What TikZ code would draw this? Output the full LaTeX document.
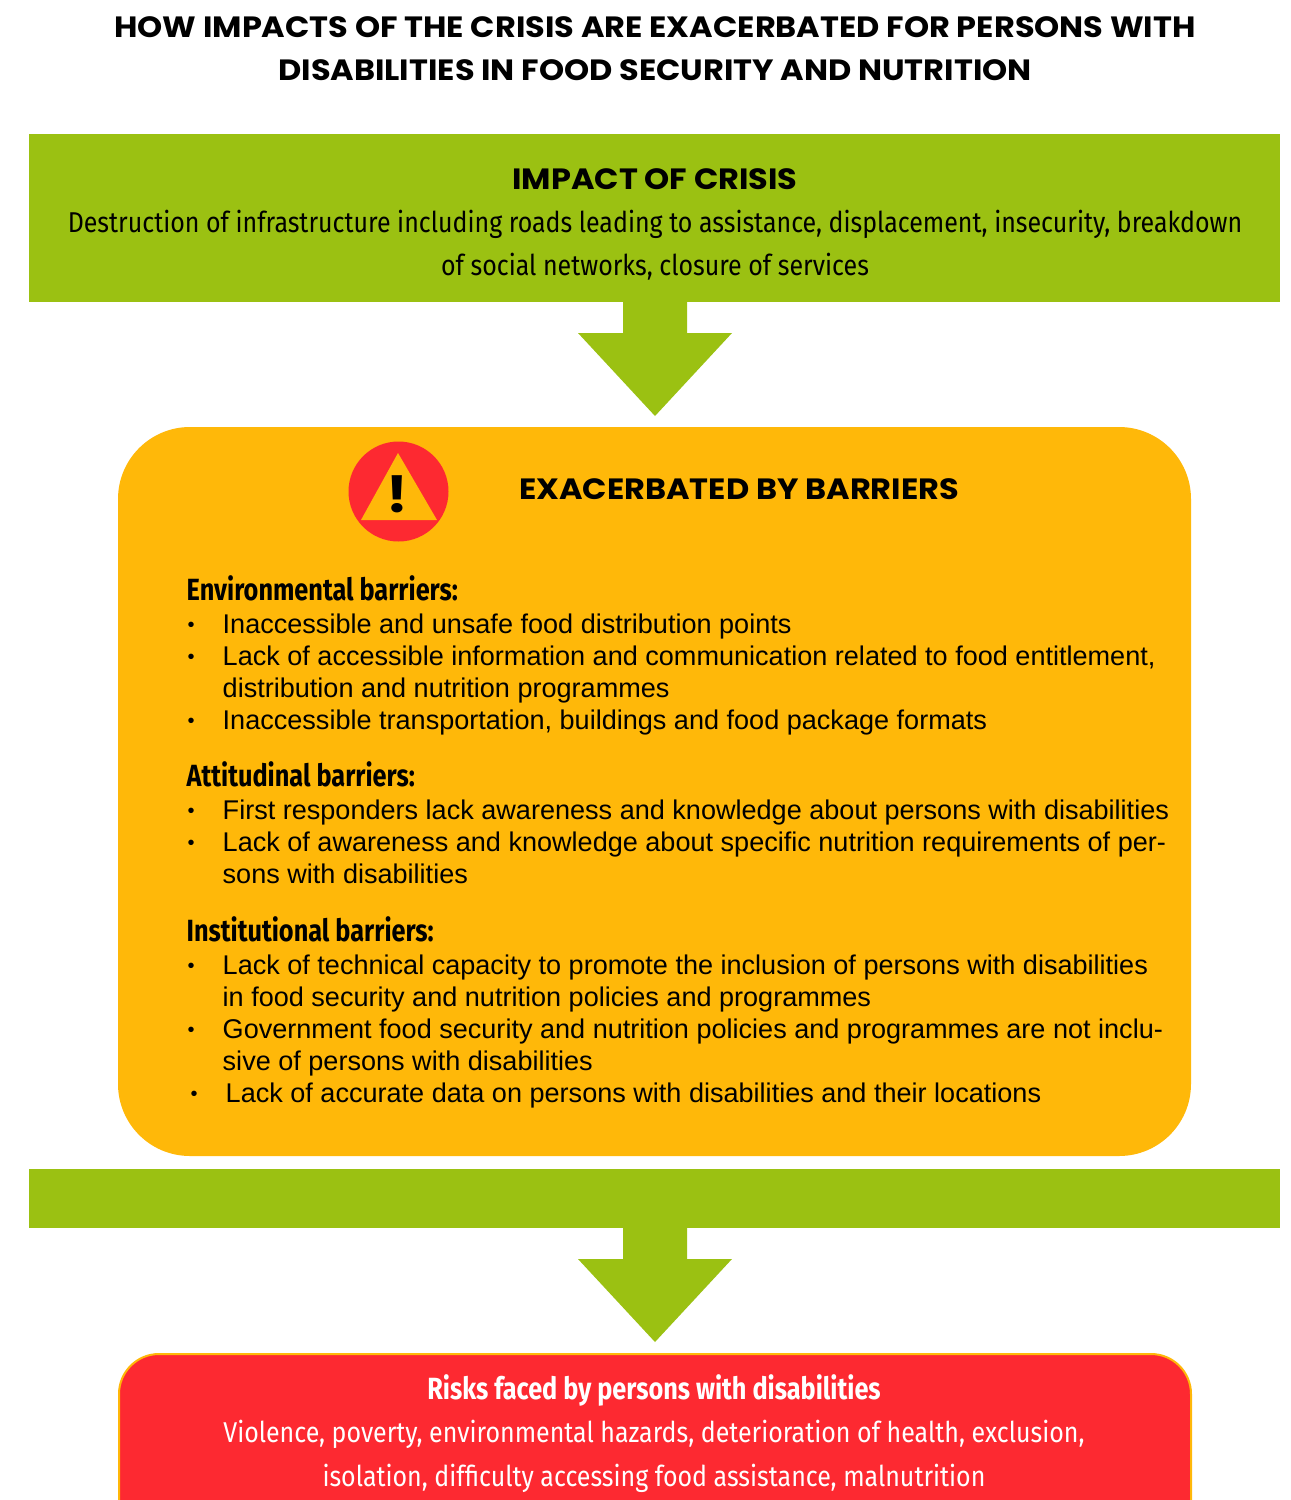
\documentclass[tikz,border=0pt]{standalone}
\usepackage{fontspec}
\setmainfont{Liberation Sans}
\newfontfamily\headfont[FakeStretch=1.09]{Poppins}
\newfontfamily\bodyfont{Liberation Sans}
\newfontfamily\narrowfont[FakeStretch=0.871]{Fira Sans}
\newfontfamily\subfont[FakeStretch=0.825]{Fira Sans}
\usetikzlibrary{positioning}
\definecolor{barGreen}{RGB}{155,193,18}
\definecolor{barAmber}{RGB}{255,184,9}
\definecolor{barRed}{RGB}{253,41,49}
\tikzset{
  headtext/.style={font=\headfont\bfseries\fontsize{22}{32}\selectfont,anchor=base},
  narrowtext/.style={font=\narrowfont\fontsize{21.5}{32}\selectfont,anchor=base},
  subtext/.style={font=\subfont\bfseries\fontsize{23}{32}\selectfont,anchor=base west},
  itemtext/.style={font=\bodyfont\fontsize{20.3}{24}\selectfont,anchor=base west},
  dottext/.style={font=\bodyfont\fontsize{15}{24}\selectfont,anchor=base},
}
\begin{document}
\begin{tikzpicture}[x=0.75pt,y=0.75pt,yscale=-1,xscale=1]
\useasboundingbox (0,0) rectangle (1290,1500);
\path[fill=white] (0,0) rectangle (1290,1500);

% Title
\node [headtext] (titlea) at (655,37) {HOW IMPACTS OF THE CRISIS ARE EXACERBATED FOR PERSONS WITH};
\node [headtext] (titleb) at (655,80) {DISABILITIES IN FOOD SECURITY AND NUTRITION};

% Green band with arrow
\fill [barGreen] (29,134) rectangle (1280,302);
\fill [barGreen] (623,302) -- (687,302) -- (687,333) -- (732,333) -- (655,416) -- (578,333) -- (623,333) -- cycle;
\node [headtext] (impact) at (655,189) {IMPACT OF CRISIS};
\node [narrowtext] (impacta) at (655,232) {Destruction of infrastructure including roads leading to assistance, displacement, insecurity, breakdown};
\node [narrowtext] (impactb) at (655,275) {of social networks, closure of services};

% Amber panel
\fill [barAmber,rounded corners=54pt] (118,427) rectangle (1191,1156);
\fill [barRed] (398.5,491.5) circle (50);
\fill [barAmber] (398,453) -- (437,520) -- (361,520) -- cycle;
\node [font=\headfont\bfseries\fontsize{38}{38}\selectfont,anchor=base] (warn) at (397.5,512) {!};
\node [headtext] (barriers) at (739,499) {EXACERBATED BY BARRIERS};

\node [subtext] (env) at (182,600) {Environmental barriers:};
\node [subtext] (att) at (182,786) {Attitudinal barriers:};
\node [subtext] (inst) at (182,941) {Institutional barriers:};

\foreach \ypos/\xpos/\txt in {
  633/223/{Inaccessible and unsafe food distribution points},
  665/223/{Lack of accessible information and communication related to food entitlement,},
  697/223/{distribution and nutrition programmes},
  729/223/{Inaccessible transportation, buildings and food package formats},
  819/223/{First responders lack awareness and knowledge about persons with disabilities},
  851/223/{Lack of awareness and knowledge about specific nutrition requirements of per-},
  883/223/{sons with disabilities},
  974/223/{Lack of technical capacity to promote the inclusion of persons with disabilities},
  1006/223/{in food security and nutrition policies and programmes},
  1038/223/{Government food security and nutrition policies and programmes are not inclu-},
  1070/223/{sive of persons with disabilities},
  1102/226/{Lack of accurate data on persons with disabilities and their locations}}
  \node [itemtext] at (\xpos-5,\ypos) {\txt};

\foreach \ypos/\xpos in {631/191,663/191,727/191,817/191,849/191,972/191,1036/191,1100/194}
  \node [dottext] at (\xpos,\ypos) {•};

% Second band with arrow
\fill [barGreen] (29,1169) rectangle (1280,1228);
\fill [barGreen] (623,1228) -- (687,1228) -- (687,1259) -- (732,1259) -- (655,1342) -- (578,1259) -- (623,1259) -- cycle;

% Red panel
\begin{scope}
\clip (0,0) rectangle (1290,1500);
\draw [fill=barRed,draw=barAmber,line width=1.5pt,rounded corners=30pt] (119,1354) rectangle (1191,1560);
\end{scope}
\node [font=\subfont\bfseries\fontsize{23}{32}\selectfont,text=white,anchor=base] (risks) at (654,1399) {Risks faced by persons with disabilities};
\node [narrowtext,text=white] (risksa) at (654,1442) {Violence, poverty, environmental hazards, deterioration of health, exclusion,};
\node [narrowtext,text=white] (risksb) at (654,1486) {isolation, difficulty accessing food assistance, malnutrition};
\end{tikzpicture}
\end{document}
